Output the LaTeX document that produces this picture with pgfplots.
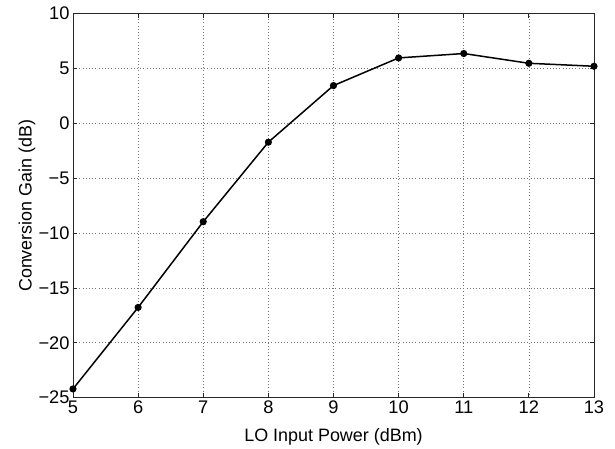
\documentclass[border=0pt]{standalone}
\usepackage{pgfplots}
\pgfplotsset{compat=1.18}
\usepackage{fontspec}
\setmainfont{Liberation Sans}
\begin{document}
\begin{tikzpicture}
\begin{axis}[
 at={(0bp,0bp)}, anchor=south west,
 scale only axis, width=521bp, height=384bp,
 xmin=5, xmax=13, ymin=-25, ymax=10,
 xtick={5,6,7,8,9,10,11,12,13},
 xticklabels={5,6,7,8,9,10,11,12,13},
 ytick={-25,-20,-15,-10,-5,0,5,10},
 yticklabels={−25,−20,−15,−10,−5,0,5,10},
 tick align=inside, tick pos=both,
 major tick length=4.5bp,
 grid=major,
 grid style={black!55, dash pattern=on 0.8bp off 2.4bp, line width=0.7bp},
 axis line style={black!85, line width=0.9bp},
 every tick/.style={black!85, line width=0.9bp},
 ticklabel style={font=\fontsize{18.3}{21}\selectfont},
 label style={font=\fontsize{18}{21}\selectfont},
 xlabel={LO Input Power (dBm)},
 ylabel={Conversion Gain (dB)},
 xlabel style={at={(axis description cs:0.5,-0.1029)}, anchor=center},
 ylabel style={at={(axis description cs:-0.0883,0.5)}, anchor=center},
 clip=false,
]
\addplot[black, line width=1.5bp, mark=*, mark size=2.8bp, mark options={fill=black}]
 coordinates {
 (5,-24.2) (6,-16.77) (7,-8.96) (8,-1.71) (9,3.45)
 (10,5.97) (11,6.37) (12,5.48) (13,5.21)
 };
\end{axis}
\pgfresetboundingbox
\useasboundingbox (-73bp,-51.3bp) rectangle (542bp,397.7bp);
\end{tikzpicture}
\end{document}
